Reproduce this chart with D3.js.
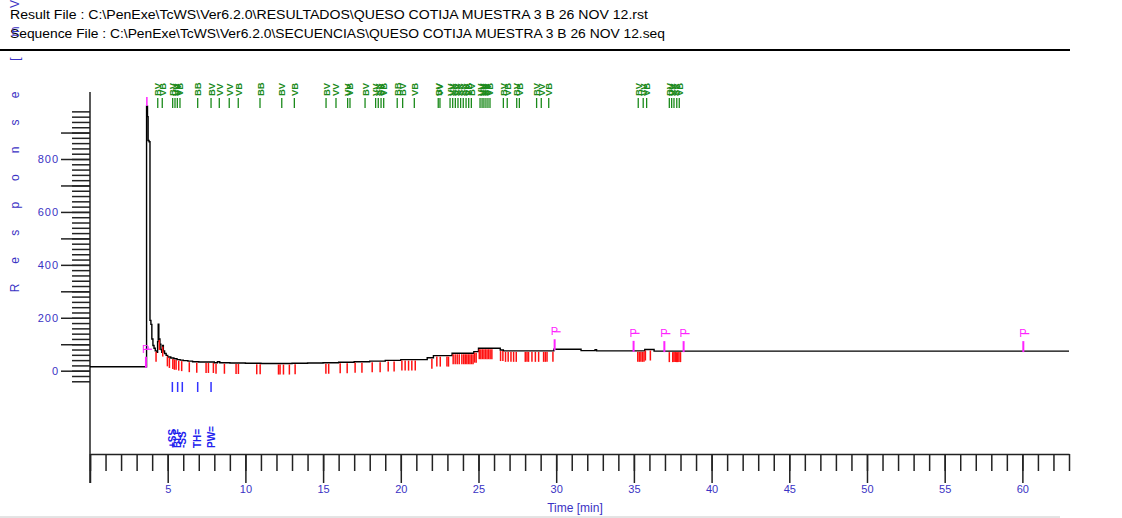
<!DOCTYPE html>
<html>
<head>
<meta charset="utf-8">
<title>Chromatogram</title>
<script src="https://d3js.org/d3.v7.min.js"></script>
<style>
	body { margin: 0; background: #fff; }
	text { font-family: "Liberation Sans", Arial, sans-serif; }
</style>
</head>
<body>
<script>
	// header text
	var headerLines = [
		"Result File : C:\\PenExe\\TcWS\\Ver6.2.0\\RESULTADOS\\QUESO COTIJA MUESTRA 3 B 26 NOV 12.rst",
		"Sequence File : C:\\PenExe\\TcWS\\Ver6.2.0\\SECUENCIAS\\QUESO COTIJA MUESTRA 3 B 26 NOV 12.seq"
	];
	var yTitle = ["R","e","s","p","o","n","s","e","[","m","V"];

	// detector trace (min, mV)
	var traceTime  = [0, 3.62, 3.64, 3.70, 3.74, 3.80, 3.86, 3.92, 3.98, 4.05, 4.12, 4.20, 4.30, 4.35, 4.39, 4.43, 4.50, 4.56, 4.62, 4.68, 4.72, 4.80, 4.90, 5.0, 5.2, 5.4, 5.6, 5.8, 6.0, 6.3, 6.6, 7.0, 8.0, 8.2, 8.35, 9, 10, 11, 12, 13, 14, 15, 16, 17, 18, 19, 20, 21.7, 22.1, 23.3, 24.7, 25.0, 26.4, 26.6, 29.85, 31.6, 32.5, 32.6, 35.7, 36.3, 63];
	var traceValue = [15, 15, 1000, 960, 870, 865, 190, 175, 120, 95, 85, 75, 70, 110, 176, 120, 100, 80, 70, 95, 75, 65, 58, 52, 48, 45, 42, 40, 38, 36, 34, 33, 30, 34, 30, 29, 28, 27, 27, 28, 29, 30, 32, 34, 36, 39, 42, 49, 57, 66, 72, 85, 78, 75, 81, 76, 79, 75, 80, 74, 74];

	// green peak marks at the top
	var peakTimes = [4.36, 4.65, 5.32, 5.47, 5.62, 5.79, 6.93, 7.79, 8.32, 8.96, 9.54, 10.94, 12.34, 13.15, 15.19, 15.83, 16.58, 16.73, 17.70, 18.38, 18.55, 18.73, 18.90, 19.77, 20.12, 20.87, 22.41, 22.52, 23.17, 23.34, 23.51, 23.68, 23.85, 24.02, 24.20, 24.37, 24.54, 25.10, 25.23, 25.35, 25.48, 25.61, 25.74, 26.60, 26.85, 27.46, 27.63, 28.74, 29.04, 29.52, 35.28, 35.60, 35.82, 37.28, 37.43, 37.58, 37.76, 37.92];
	var peakCodes = ["BV", "VB", "BV", "VV", "VV", "VB", "BB", "BV", "VV", "VV", "VB", "BB", "BV", "VB", "BV", "VV", "VV", "VB", "BV", "VV", "VV", "VV", "VB", "BB", "BV", "VB", "BV", "VV", "VV", "VV", "VV", "VV", "VV", "VV", "VV", "VB", "BV", "VV", "VV", "VV", "VV", "VV", "VB", "BV", "VB", "BV", "VB", "BV", "VV", "VB", "BV", "VV", "VB", "BV", "VV", "VV", "VV", "VB"];

	// red baseline marks hanging under the trace
	var baseTimes = [4.25, 4.46, 4.68, 4.98, 5.11, 5.33, 5.43, 5.54, 5.71, 5.90, 6.39, 6.87, 7.47, 7.62, 7.94, 8.11, 8.65, 9.40, 9.55, 10.73, 10.95, 12.13, 12.23, 12.45, 12.83, 13.20, 15.18, 15.36, 16.10, 16.55, 17.06, 17.50, 18.16, 18.67, 19.19, 19.57, 20.07, 20.28, 20.50, 20.71, 20.93, 22.00, 22.32, 22.54, 22.97, 23.07, 23.37, 23.50, 23.63, 23.76, 23.93, 24.05, 24.15, 24.25, 24.35, 24.45, 24.55, 24.65, 24.75, 24.85, 25.05, 25.15, 25.25, 25.35, 25.45, 25.55, 25.65, 25.75, 25.86, 26.42, 26.57, 26.74, 26.91, 27.09, 27.26, 27.43, 28.01, 28.12, 28.22, 28.44, 28.66, 28.87, 29.19, 29.30, 29.41, 29.79, 35.25, 35.35, 35.45, 35.55, 35.65, 35.74, 36.06, 37.28, 37.50, 37.58, 37.66, 37.74, 37.82, 37.90, 38.00];

	// magenta "P" marks and the apex mark
	var markTimes = [3.60, 29.9, 34.98, 36.96, 38.2, 60.06];
	var apexTimes = [3.66];

	// blue timed events
	var eventTimes = [5.30, 5.64, 5.94, 6.93, 7.79];
	var eventLabels = ["+SS", "BLF", "-SS", "TH=", "PW="];

	var xMajor = [0, 5, 10, 15, 20, 25, 30, 35, 40, 45, 50, 55, 60];
	var yMajor = [0, 100, 200, 300, 400, 500, 600, 700, 800, 900];
	var yLabels = [0, 200, 400, 600, 800];

	var W = 1122, H = 518;
	var blue = "#3a32c4";

	var svg = d3.select("body").append("svg").attr("width", W).attr("height", H);

	var x = d3.scaleLinear().domain([0, 63]).range([90, 1069]);
	var y = d3.scaleLinear().domain([0, 800]).range([370.7, 159]);

	function valueAt(t) {
		var i = d3.bisectRight(traceTime, t) - 1;
		return traceValue[Math.max(0, i)];
	}

	// header
	svg.selectAll(".hdr").data(headerLines).enter().append("text")
		.attr("class", "hdr")
		.attr("x", 10).attr("y", function (d, i) { return 19 + i * 19; })
		.attr("font-size", 12).attr("fill", "#000")
		.attr("textLength", function (d, i) { return i == 0 ? 638 : 655; })
		.attr("lengthAdjust", "spacingAndGlyphs")
		.text(function (d) { return d; });

	svg.append("line").attr("x1", 0).attr("x2", 1070).attr("y1", 50).attr("y2", 50)
		.attr("stroke", "#000").attr("stroke-width", 2);

	// y title, letter by letter, rotated
	svg.selectAll(".yt").data(yTitle).enter().append("text")
		.attr("class", "yt")
		.attr("transform", function (d, i) {
			var yy = 288 - i * 27.6 - (i >= 8 ? 8 : 0);
			return "translate(19," + yy + ") rotate(-90)";
		})
		.attr("text-anchor", "middle").attr("font-size", 12).attr("fill", blue)
		.text(function (d) { return d; });

	// y axis
	svg.append("line").attr("x1", 90).attr("x2", 90).attr("y1", 92).attr("y2", 483)
		.attr("stroke", "#222").attr("stroke-width", 1.5);

	var yMinor = svg.append("g").attr("transform", "translate(90,0)")
		.call(d3.axisLeft(y).tickValues(d3.range(-40, 981, 20)).tickSize(18).tickFormat(""));
	var yMaj = svg.append("g").attr("transform", "translate(90,0)")
		.call(d3.axisLeft(y).tickValues(yMajor).tickSize(29).tickPadding(2)
			.tickFormat(function (d) { return yLabels.indexOf(d) >= 0 ? d : ""; }));

	// x axis
	var xMinor = svg.append("g").attr("transform", "translate(0,454)")
		.call(d3.axisBottom(x).tickValues(d3.range(0, 64, 1)).tickSize(17).tickSizeOuter(0).tickFormat(""));
	var xMaj = svg.append("g").attr("transform", "translate(0,454)")
		.call(d3.axisBottom(x).tickValues(xMajor).tickSize(29).tickSizeOuter(0).tickPadding(2)
			.tickFormat(function (d) { return d == 0 ? "" : d; }));

	[yMinor, yMaj, xMinor, xMaj].forEach(function (g) {
		g.selectAll(".tick line").attr("stroke", "#222").attr("stroke-width", 1.5);
		g.selectAll(".tick text").attr("fill", blue).attr("font-size", 11)
			.attr("font-family", "Liberation Sans, Arial, sans-serif");
	});
	yMinor.select(".domain").remove();
	yMaj.select(".domain").remove();
	xMaj.select(".domain").remove();
	xMinor.select(".domain").attr("stroke", "#222").attr("stroke-width", 1.6);
	yMaj.selectAll(".tick text").attr("letter-spacing", 1);

	svg.append("text").attr("x", 575).attr("y", 512).attr("text-anchor", "middle")
		.attr("font-size", 12).attr("fill", blue).text("Time [min]");

	// trace
	var line = d3.line()
		.x(function (d, i) { return x(traceTime[i]); })
		.y(function (d) { return y(d); })
		.curve(d3.curveStepAfter);
	svg.append("path").datum(traceValue)
		.attr("d", line).attr("fill", "none")
		.attr("stroke", "#000").attr("stroke-width", 1.4);

	// red baseline marks
	svg.selectAll(".bm").data(baseTimes).enter().append("line")
		.attr("class", "bm")
		.attr("x1", function (d) { return x(d); }).attr("x2", function (d) { return x(d); })
		.attr("y1", function (d) { return y(valueAt(d)) + 1; })
		.attr("y2", function (d) { return y(valueAt(d)) + 11; })
		.attr("stroke", "#ff1010").attr("stroke-width", 1.5);

	// green peak marks
	svg.selectAll(".pk").data(peakTimes).enter().append("line")
		.attr("class", "pk")
		.attr("x1", function (d) { return x(d); }).attr("x2", function (d) { return x(d); })
		.attr("y1", 98).attr("y2", 108)
		.attr("stroke", "#1a8a1a").attr("stroke-width", 1.3);
	svg.selectAll(".pkl").data(peakTimes).enter().append("text")
		.attr("class", "pkl")
		.attr("transform", function (d) { return "translate(" + (x(d) + 3.5) + ",96) rotate(-90)"; })
		.attr("font-size", 9.5).attr("font-weight", "bold").attr("fill", "#1a8a1a")
		.text(function (d, i) { return peakCodes[i]; });

	// magenta marks
	svg.selectAll(".ap").data(apexTimes).enter().append("line")
		.attr("x1", function (d) { return x(d); }).attr("x2", function (d) { return x(d); })
		.attr("y1", function (d) { return y(1000) - 9; }).attr("y2", function (d) { return y(1000); })
		.attr("stroke", "#ff22ff").attr("stroke-width", 1.5);
	svg.selectAll(".mk").data(markTimes).enter().append("line")
		.attr("x1", function (d) { return x(d); }).attr("x2", function (d) { return x(d); })
		.attr("y1", function (d) { return y(valueAt(d)) - 10; })
		.attr("y2", function (d) { return y(valueAt(d)) + 1; })
		.attr("stroke", "#ff22ff").attr("stroke-width", 2);
	svg.selectAll(".mkl").data(markTimes).enter().append("text")
		.attr("x", function (d) { return x(d) - 4; })
		.attr("y", function (d) { return y(valueAt(d)) - 14; })
		.attr("font-size", 11).attr("fill", "#ff22ff").text("P");
	svg.selectAll(".mkd").data(markTimes).enter().append("line")
		.attr("x1", function (d) { return x(d) - 1; }).attr("x2", function (d) { return x(d) + 6; })
		.attr("y1", function (d) { return y(valueAt(d)) - 17.5; })
		.attr("y2", function (d) { return y(valueAt(d)) - 17.5; })
		.attr("stroke", "#ff22ff").attr("stroke-width", 1.2);

	// blue events
	svg.selectAll(".ev").data(eventTimes).enter().append("line")
		.attr("x1", function (d) { return x(d); }).attr("x2", function (d) { return x(d); })
		.attr("y1", 382).attr("y2", 392)
		.attr("stroke", "#3333ff").attr("stroke-width", 1.5);
	svg.selectAll(".evl").data(eventTimes).enter().append("text")
		.attr("transform", function (d) { return "translate(" + (x(d) + 3.5) + ",448) rotate(-90)"; })
		.attr("font-size", 10).attr("font-weight", "bold").attr("fill", "#2222ee")
		.text(function (d, i) { return eventLabels[i]; });

	// bottom frame line
	svg.append("line").attr("x1", 0).attr("x2", 1060).attr("y1", 517).attr("y2", 517)
		.attr("stroke", "#c8c8c8").attr("stroke-width", 1);
</script>
</body>
</html>
